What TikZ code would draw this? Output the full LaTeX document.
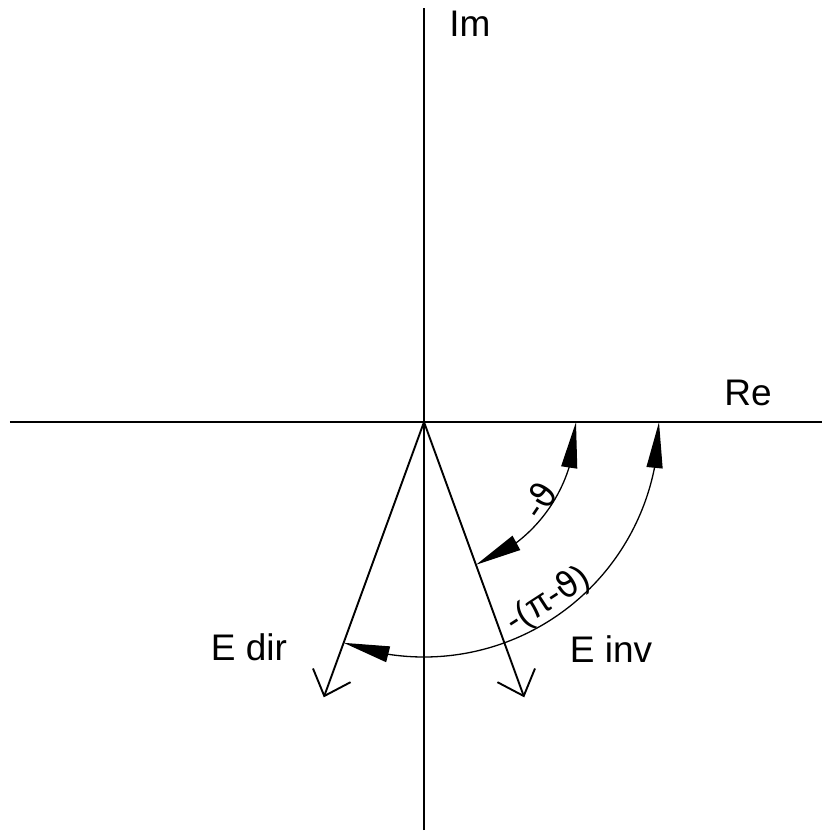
\documentclass[tikz,border=0pt]{standalone}
\usepackage{fontspec}
\setmainfont{Liberation Sans}
\newfontfamily\dejavu{DejaVu Sans}
\usetikzlibrary{arrows.meta,bending}
\begin{document}
\begin{tikzpicture}[x=1pt,y=1pt,
  axis/.style={line width=1.9pt},
  vec/.style={line width=1.9pt,-{Straight Barb[length=22pt,width=40pt,line width=1.9pt]}},
  ang/.style={line width=1.3pt,{Triangle[length=46pt,width=16pt,flex]}-{Triangle[length=46pt,width=16pt,flex]}},
  lbl/.style={font=\fontsize{37}{44}\selectfont, inner sep=0pt},
  albl/.style={font=\fontsize{35}{40}\selectfont, inner sep=0pt}]
\useasboundingbox (-424,-410) rectangle (403,422);
\coordinate (O) at (0,0);
\coordinate (W) at (-414,0);
\coordinate (E) at (398,0);
\coordinate (N) at (0,414);
\coordinate (S) at (0,-408);
\coordinate (Tinv) at (-70:293);
\coordinate (Tdir) at (-110:293);
\draw[axis] (W) -- (E);
\draw[axis] (S) -- (N);
\draw[vec] (O) -- (Tinv);
\draw[vec] (O) -- (Tdir);
\coordinate (a1) at (-70:152);
\coordinate (a2) at (-110:235);
\draw[ang] (a1) arc[start angle=-70, end angle=0, radius=152];
\draw[ang] (a2) arc[start angle=-110, end angle=0, radius=235];
\node[lbl] (im) at (46,398) {Im};
\node[lbl] (re) at (324,29) {Re};
\node[lbl] (edir) at (-175,-225) {E dir};
\node[lbl] (einv) at (187,-227) {E inv};
\node[albl, rotate=56] (th) at (115,-78) {-{\dejavu ϑ}};
\node[albl, rotate=33] (pth) at (124,-178) {-(π-{\dejavu ϑ})};
\end{tikzpicture}
\end{document}
